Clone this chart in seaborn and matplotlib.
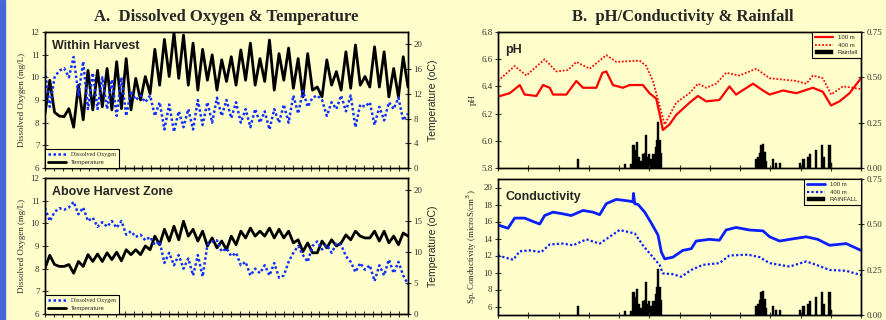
import numpy as np
import matplotlib
matplotlib.use('Agg')
import matplotlib.pyplot as plt
from matplotlib.patches import Rectangle
import seaborn as sns

# ---- data ----
# A. Within Harvest (half-cycle samples across the record)
temp_within = [8.8, 14.2, 9.0, 8.4, 8.3, 9.6, 6.6, 13.4, 7.8, 15.8,
               9.4, 15.8, 9.9, 16.1, 9.4, 17.2, 9.6, 17.7, 9.4, 14.5,
               11.0, 14.8, 12.0, 19.2, 13.4, 20.8, 14.8, 21.9, 14.5, 21.5,
               13.4, 20.2, 12.6, 19.2, 14.2, 18.3, 12.6, 17.5, 14.0, 18.0,
               13.4, 19.1, 14.2, 20.2, 13.4, 17.7, 14.0, 20.7, 12.6, 18.5,
               14.2, 19.4, 12.9, 17.7, 11.5, 18.5, 12.6, 13.1, 11.5, 17.5,
               13.4, 15.6, 12.6, 18.8, 12.9, 19.9, 13.4, 14.8, 13.1, 19.6,
               13.1, 18.8, 11.5, 16.1, 11.5, 18.0, 13.1]
do_within = [10.3, 8.7, 10.0, 10.3, 10.4, 10.0, 10.9, 9.2, 10.7, 8.6,
             10.2, 8.6, 10.0, 8.6, 9.9, 8.3, 10.0, 8.3, 9.4, 9.0,
             9.2, 8.9, 9.2, 8.3, 8.9, 7.7, 8.8, 7.6, 8.5, 7.8,
             8.6, 7.7, 9.0, 7.9, 8.9, 8.0, 9.1, 8.3, 9.0, 8.2,
             8.9, 8.0, 8.6, 7.8, 8.6, 8.0, 8.5, 7.7, 8.6, 8.0,
             8.8, 8.0, 9.2, 8.4, 9.4, 8.7, 9.1, 9.2, 9.0, 8.3,
             8.9, 8.6, 9.2, 8.5, 9.2, 7.8, 8.8, 8.7, 8.9, 7.9,
             8.7, 8.1, 8.9, 8.6, 9.1, 8.1, 8.4]

# A. Above Harvest Zone
temp_above = [7.4, 9.5, 8.0, 7.7, 7.7, 8.0, 6.6, 8.5, 7.7, 9.6,
              8.5, 9.7, 8.5, 9.9, 8.8, 10.0, 8.6, 10.4, 9.6, 10.4,
              9.6, 11.0, 10.4, 12.6, 11.2, 13.7, 11.8, 14.2, 12.0, 15.0,
              12.6, 13.7, 11.8, 13.4, 11.0, 12.3, 10.7, 11.8, 10.4, 12.6,
              11.2, 13.4, 12.3, 13.9, 12.6, 13.4, 12.6, 13.9, 12.3, 13.7,
              12.3, 13.4, 11.5, 12.0, 10.1, 11.5, 9.9, 9.9, 11.8, 10.7,
              12.0, 11.0, 11.5, 12.8, 12.0, 13.4, 12.6, 12.3, 12.3, 13.4,
              11.8, 13.4, 11.5, 12.6, 11.2, 13.1, 12.6]
do_above = [10.67, 10.1, 10.5, 10.67, 10.6, 10.7, 10.95, 10.4, 10.7, 10.1,
            10.25, 9.85, 10.05, 9.85, 10.1, 9.8, 10.1, 9.5, 9.65, 9.4,
            9.5, 9.25, 9.4, 9.05, 9.2, 8.25, 8.7, 8.15, 8.6, 8.0,
            8.45, 7.7, 8.6, 7.65, 9.05, 9.2, 9.25, 8.75, 8.9, 8.55,
            8.7, 8.15, 8.3, 7.7, 8.0, 7.8, 8.15, 7.7, 8.25, 7.6,
            7.7, 8.3, 8.7, 9.0, 8.6, 8.3, 9.0, 9.2, 8.85, 9.05,
            8.7, 9.1, 9.05, 8.55, 8.3, 7.85, 8.25, 7.95, 8.15, 7.45,
            8.15, 7.7, 8.4, 7.8, 8.3, 7.7, 7.3]
n_days_a = 41

# B. pH
ph100_t = [0, 0.39, 0.72, 0.88, 1.27, 1.49, 1.71, 1.82, 2.26, 2.59,
           2.81, 3.25, 3.45, 3.58, 3.80, 4.13, 4.35, 4.79, 5.01, 5.23,
           5.34, 5.45, 5.67, 5.89, 6.33, 6.61, 6.88, 7.32, 7.65, 7.87,
           8.43, 8.76, 8.98, 9.42, 9.86, 10.41, 10.74, 11.01, 11.29, 11.62, 12.0]
ph100 = [6.325, 6.35, 6.41, 6.34, 6.33, 6.41, 6.39, 6.34, 6.34, 6.44,
         6.39, 6.39, 6.50, 6.51, 6.41, 6.39, 6.41, 6.41, 6.35, 6.31,
         6.20, 6.08, 6.12, 6.19, 6.28, 6.33, 6.29, 6.30, 6.40, 6.34,
         6.42, 6.37, 6.34, 6.37, 6.35, 6.39, 6.36, 6.26, 6.29, 6.35, 6.46]
ph400_t = [0, 0.55, 0.94, 1.54, 1.93, 2.31, 2.59, 3.03, 3.58, 3.91,
           4.68, 4.90, 5.12, 5.40, 5.51, 5.89, 6.33, 6.61, 6.88, 7.21,
           7.54, 7.98, 8.54, 8.98, 9.42, 9.86, 10.19, 10.41, 10.74, 11.01,
           11.40, 11.73, 12.0]
ph400 = [6.44, 6.55, 6.48, 6.60, 6.51, 6.52, 6.58, 6.53, 6.63, 6.58,
         6.59, 6.55, 6.44, 6.21, 6.12, 6.28, 6.35, 6.42, 6.39, 6.42,
         6.50, 6.48, 6.53, 6.46, 6.45, 6.44, 6.42, 6.48, 6.46, 6.34,
         6.40, 6.39, 6.38]

# B. Conductivity
cond100_t = [0, 0.33, 0.55, 0.88, 1.16, 1.38, 1.54, 1.82, 2.15, 2.42,
             2.81, 3.14, 3.36, 3.58, 3.91, 4.35, 4.46, 4.48, 4.52, 4.63,
             4.85, 5.07, 5.29, 5.40, 5.51, 5.78, 6.11, 6.39, 6.55, 6.99,
             7.32, 7.54, 7.87, 8.31, 8.76, 8.98, 9.31, 9.64, 10.19, 10.57,
             10.96, 11.51, 12.0]
cond100 = [15.6, 15.2, 16.4, 16.4, 16.0, 15.7, 16.7, 17.1, 16.9, 16.7,
           17.3, 17.1, 16.8, 18.1, 18.6, 18.4, 18.3, 19.3, 18.1, 18.0,
           17.1, 15.8, 14.4, 12.4, 11.6, 11.8, 12.6, 12.8, 13.7, 13.9,
           13.8, 15.0, 15.3, 15.0, 14.9, 14.2, 13.7, 13.9, 14.2, 13.9,
           13.2, 13.4, 12.6]
cond400_t = [0, 0.50, 0.72, 1.05, 1.43, 1.71, 2.15, 2.48, 2.92, 3.36,
             4.02, 4.52, 4.79, 5.12, 5.34, 5.45, 5.78, 6.06, 6.39, 6.77,
             7.32, 7.65, 8.26, 8.65, 8.98, 9.64, 10.19, 10.52, 10.96, 11.51, 12.0]
cond400 = [12.0, 11.5, 12.5, 12.6, 12.4, 13.3, 13.4, 13.2, 13.9, 13.4,
           15.0, 14.6, 13.2, 11.8, 10.9, 9.9, 9.8, 9.5, 10.3, 10.9,
           11.1, 12.0, 12.1, 11.8, 11.1, 10.7, 11.3, 10.9, 10.3, 10.2, 9.7]

# Rainfall (same record on both B panels)
rain_t = [2.64, 4.19, 4.41, 4.48, 4.55, 4.60, 4.66, 4.72, 4.79, 4.85,
          4.90, 4.95, 4.99, 5.03, 5.07, 5.14, 5.21, 5.26, 5.29, 5.34, 5.40,
          8.54, 8.60, 8.65, 8.70, 8.76, 8.81, 8.87, 9.09, 9.20, 9.31,
          9.97, 10.10, 10.24, 10.32, 10.52, 10.72, 10.77, 10.96, 11.01]
rain = [0.05, 0.024, 0.02, 0.126, 0.10, 0.144, 0.06, 0.04, 0.076, 0.08,
        0.18, 0.06, 0.076, 0.04, 0.05, 0.076, 0.116, 0.153, 0.255, 0.153, 0.08,
        0.05, 0.06, 0.08, 0.126, 0.13, 0.09, 0.04, 0.05, 0.03, 0.03,
        0.025, 0.05, 0.06, 0.076, 0.10, 0.126, 0.06, 0.126, 0.025]
n_units_b = 12

# ---- style ----
bg = '#FFFFCC'
sns.set_theme(style='ticks', rc={'axes.facecolor': bg, 'figure.facecolor': bg,
                                 'axes.edgecolor': 'black', 'axes.linewidth': 1.0})
serif = ['Liberation Serif', 'DejaVu Serif']
sans = ['Liberation Sans', 'DejaVu Sans']
plt.rcParams['font.family'] = serif

fig = plt.figure(figsize=(8.86, 3.2), dpi=100)
fig.add_artist(Rectangle((0, 0), 5 / 886, 1, transform=fig.transFigure,
                         color='#4468D8', zorder=5))

W, H = 886, 320


def make_ax(x0, y0, w, h):
    return fig.add_axes([x0 / W, 1 - (y0 + h) / H, w / W, h / H])


def style_ticks(ax, labelsize=6.5):
    ax.tick_params(direction='inout', length=4, width=0.8, labelsize=labelsize,
                   colors='#333333', labelcolor='#333333', pad=2)


def panel_a(ax, do_vals, temp_vals, title, tticks):
    t_do = np.linspace(0, n_days_a, len(do_vals))
    t_tp = np.linspace(0, n_days_a, len(temp_vals))
    ax2 = ax.twinx()
    sns.lineplot(x=t_tp, y=temp_vals, ax=ax2, color='black', lw=2.0,
                 label='Temperature', legend=False)
    sns.lineplot(x=t_do, y=do_vals, ax=ax, color='#1030FF', lw=1.8,
                 linestyle=(0, (1, 1)), label='Dissolved Oxygen', legend=False)
    ax.set_zorder(ax2.get_zorder() + 1)
    ax.patch.set_visible(False)
    ax.set_xlim(0, n_days_a)
    ax.set_ylim(6, 12)
    ax.set_yticks(range(6, 13))
    ax2.set_ylim(0, 22)
    ax2.set_yticks(tticks)
    ax.set_xticks(range(0, n_days_a + 1))
    ax.set_xticklabels([])
    ax.set_xlabel('')
    for a in (ax, ax2):
        style_ticks(a)
    ax.set_ylabel('Dissolved Oxygen (mg/L)', fontsize=6.5, labelpad=3)
    ax2.set_ylabel('Temperature (oC)', fontsize=7.5, family=sans, labelpad=4)
    ax.text(0.02, 0.94, title, transform=ax.transAxes, fontsize=9,
            fontweight='bold', family=sans, va='top')
    h1, l1 = ax.get_legend_handles_labels()
    h2, l2 = ax2.get_legend_handles_labels()
    leg = ax.legend(h1 + h2, l1 + l2, loc='lower left', borderaxespad=0,
                    fontsize=4.3, handlelength=3, frameon=True, fancybox=False,
                    edgecolor='black', facecolor=bg, framealpha=1,
                    borderpad=0.5, labelspacing=0.4)
    leg.get_frame().set_linewidth(0.8)
    leg.get_texts()[1].set_family(sans)


def panel_b(ax, t1, v1, t2, v2, color, ylim, yticks, ylabel, title, rain_label, lw):
    ax2 = ax.twinx()
    ax2.bar(rain_t, rain, width=0.07, color='black', edgecolor='black',
            linewidth=0.3, label=rain_label)
    ax2.set_ylim(0, 0.75)
    ax2.set_yticks([0, 0.25, 0.5, 0.75])
    ax2.set_yticklabels(['0.00', '0.25', '0.50', '0.75'])
    sns.lineplot(x=t1, y=v1, ax=ax, color=color, lw=lw, label='100 m', legend=False)
    sns.lineplot(x=t2, y=v2, ax=ax, color=color, lw=lw * 0.8,
                 linestyle=(0, (1, 1)), label='400 m', legend=False)
    ax.set_zorder(ax2.get_zorder() + 1)
    ax.patch.set_visible(False)
    ax.set_xlim(0, n_units_b)
    ax.set_xticks(range(0, n_units_b + 1))
    ax.set_xticklabels([])
    ax.set_ylim(*ylim)
    ax.set_yticks(yticks)
    for a in (ax, ax2):
        style_ticks(a)
    ax.set_ylabel(ylabel, fontsize=6.5, labelpad=3)
    ax.text(0.02, 0.91, title, transform=ax.transAxes, fontsize=9,
            fontweight='bold', family=sans, va='top')
    h1, l1 = ax.get_legend_handles_labels()
    h2, l2 = ax2.get_legend_handles_labels()
    leg = ax.legend(h1 + h2, l1 + l2, loc='upper right', borderaxespad=0,
                    handlelength=3, frameon=True, fancybox=False,
                    edgecolor='black', facecolor=bg, framealpha=1,
                    borderpad=0.5, labelspacing=0.4, prop={'family': sans, 'size': 4.3})
    leg.get_frame().set_linewidth(0.8)


ax_a1 = make_ax(45, 32, 363, 136)
ax_a2 = make_ax(45, 178, 363, 136)
ax_b1 = make_ax(498, 32, 363, 136)
ax_b2 = make_ax(498, 179, 363, 136)

panel_a(ax_a1, do_within, temp_within, 'Within Harvest', [0, 4, 8, 12, 16, 20])
panel_a(ax_a2, do_above, temp_above, 'Above Harvest Zone', [0, 5, 10, 15, 20])

panel_b(ax_b1, ph100_t, ph100, ph400_t, ph400, '#FF0000', (5.8, 6.8),
        [5.8, 6.0, 6.2, 6.4, 6.6, 6.8], 'pH', 'pH', 'Rainfall', 1.6)
ax_b1.set_yticklabels(['5.8', '6.0', '6.2', '6.4', '6.6', '6.8'])
panel_b(ax_b2, cond100_t, cond100, cond400_t, cond400, '#0A1EFF', (5, 21),
        range(6, 21, 2), 'Sp. Conductivity (microS/cm$^3$)', 'Conductivity',
        'RAINFALL', 2.0)

fig.text(226 / W, 1 - 17 / H, 'A.  Dissolved Oxygen & Temperature', ha='center',
         va='center', fontsize=12, fontweight='bold')
fig.text(683 / W, 1 - 17 / H, 'B.  pH/Conductivity & Rainfall', ha='center',
         va='center', fontsize=12, fontweight='bold')

fig.savefig('out.png', dpi=100, facecolor=bg)
